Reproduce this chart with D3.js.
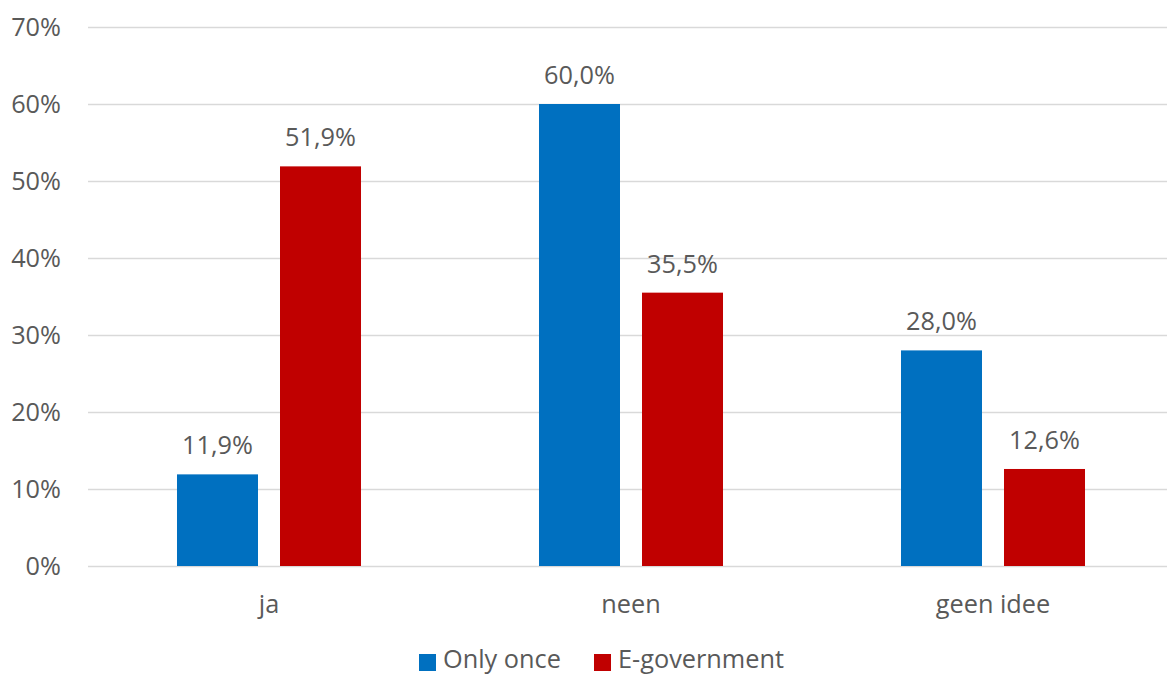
<!DOCTYPE html>
<html>
<head>
<meta charset="utf-8">
<script src="https://cdn.jsdelivr.net/npm/d3@7/dist/d3.min.js"></script>
<style>
  html, body { margin: 0; padding: 0; background: #ffffff; overflow: hidden; }
  svg { display: block; font-family: "Open Sans", sans-serif; }
</style>
</head>
<body>
<svg id="chart" width="1167" height="675"></svg>
<script>
// Answers per category, two survey series (fractions)
const categories = ["ja", "neen", "geen idee"];
const seriesNames = ["Only once", "E-government"];
const onlyOnce = [0.119, 0.600, 0.280];
const eGovernment = [0.519, 0.355, 0.126];
const yTicks = [0, 0.1, 0.2, 0.3, 0.4, 0.5, 0.6, 0.7];
const colors = ["#0070C0", "#C00000"];

const seriesValues = [onlyOnce, eGovernment];
const rows = categories.map((c, i) => ({
  category: c,
  values: seriesNames.map((s, j) => ({ series: s, value: seriesValues[j][i], idx: j }))
}));

const svg = d3.select("#chart");
const W = 1167, H = 675;
const plot = { left: 88, right: 1174, top: 27, bottom: 566 };

const x0 = d3.scaleBand().domain(categories).range([plot.left, plot.right]).padding(0);
const x1 = d3.scaleBand().domain(seriesNames).range([0, x0.bandwidth()])
  .paddingInner(0.2136).paddingOuter(0.864);
const y = d3.scaleLinear().domain([0, 0.7]).range([plot.bottom, plot.top]);

const fmtPct = d3.format(".0%");
const fmtVal = v => d3.format(".1f")(v * 100).replace(".", ",") + "%";
const textColor = "#595959";
const fontSize = 25.3;

// Horizontal gridlines
svg.append("g")
  .selectAll("line")
  .data(yTicks)
  .join("line")
  .attr("x1", plot.left)
  .attr("x2", W)
  .attr("y1", d => Math.round(y(d)) + 0.5)
  .attr("y2", d => Math.round(y(d)) + 0.5)
  .attr("stroke", "#D9D9D9")
  .attr("stroke-width", 1.5);

// Y axis labels
const yAxis = d3.axisLeft(y).tickValues(yTicks).tickFormat(fmtPct).tickSize(0).tickPadding(0);
const yG = svg.append("g").attr("transform", `translate(61,0)`).call(yAxis);
yG.select(".domain").remove();
yG.selectAll("text")
  .attr("fill", textColor)
  .style("font-size", fontSize + "px")
  .style("font-family", "'Open Sans', sans-serif");

// Category axis labels
const xAxis = d3.axisBottom(x0).tickSize(0).tickPadding(0);
const xG = svg.append("g").attr("transform", `translate(0,${plot.bottom})`).call(xAxis);
xG.select(".domain").remove();
xG.selectAll("text")
  .attr("dy", null)
  .attr("y", 47)
  .attr("fill", textColor)
  .style("font-size", fontSize + "px")
  .style("font-family", "'Open Sans', sans-serif");

// Bars
const groups = svg.append("g")
  .selectAll("g")
  .data(rows)
  .join("g")
  .attr("transform", d => `translate(${x0(d.category)},0)`);

groups.selectAll("rect")
  .data(d => d.values)
  .join("rect")
  .attr("x", d => x1(d.series))
  .attr("width", x1.bandwidth())
  .attr("y", d => y(d.value))
  .attr("height", d => y(0) - y(d.value))
  .attr("fill", d => colors[d.idx]);

// Value labels
groups.selectAll("text.val")
  .data(d => d.values)
  .join("text")
  .attr("class", "val")
  .attr("x", d => x1(d.series) + x1.bandwidth() / 2)
  .attr("y", d => y(d.value) - 20)
  .attr("text-anchor", "middle")
  .attr("fill", textColor)
  .style("font-size", fontSize + "px")
  .text(d => fmtVal(d.value));

// Legend
const legendItems = [
  { name: seriesNames[0], color: colors[0], x: 419 },
  { name: seriesNames[1], color: colors[1], x: 594 }
];
const legend = svg.append("g");
const li = legend.selectAll("g").data(legendItems).join("g")
  .attr("transform", d => `translate(${d.x},654)`);
li.append("rect").attr("width", 17).attr("height", 17).attr("fill", d => d.color);
li.append("text")
  .attr("x", 24)
  .attr("y", 14)
  .attr("fill", textColor)
  .style("font-size", fontSize + "px")
  .text(d => d.name);
</script>
</body>
</html>
